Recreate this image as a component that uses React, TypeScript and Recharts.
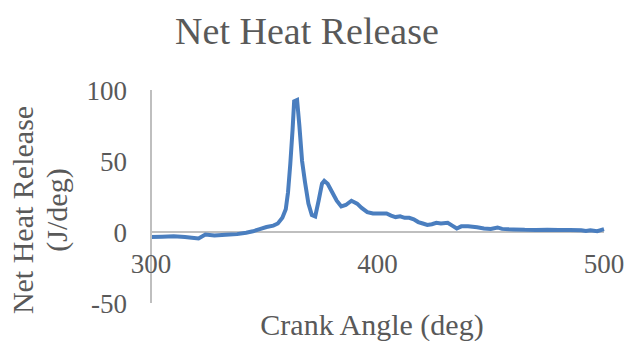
import React from "react";
import { LineChart, Line, XAxis, YAxis, ReferenceLine } from "recharts";

// Crank angle (deg) samples
const crankAngle = [
  300, 305, 310, 315, 318, 321, 324, 328, 333, 338, 342, 345, 348, 351, 354, 356, 358,
  359.5, 360.5, 361.5, 362.5, 363.2, 364.5, 365.5, 366.7, 368, 369.5, 371, 372.5, 374,
  375.5, 376.5, 378, 380, 382, 384, 386, 388.5, 391, 393, 395.5, 398, 401, 404, 406, 408,
  410, 412, 414, 416, 418, 420, 422, 424, 426, 428, 431, 433, 435, 437, 440, 444, 447,
  450, 453, 455, 458, 460, 465, 470, 475, 480, 485, 490, 492, 494, 497, 500,
];

// Net heat release (J/deg) at each crank angle
const heatRelease = [
  -3.5, -3.3, -3, -3.5, -4, -4.5, -1.8, -2.5, -2, -1.5, -0.5, 0.5, 2, 3.5, 4.5, 6, 10,
  16, 28, 48, 72, 92, 93, 75, 50, 35, 20, 12, 11, 22,
  34, 36, 34, 28, 22, 18, 19, 22, 20, 17, 14, 13, 13, 13, 11.5, 10.5,
  11, 10, 10, 9, 7, 6, 5, 5.5, 6.5, 6, 6.5, 4.5, 2.5, 4, 4, 3.3, 2.5,
  2.2, 3.2, 2.2, 1.9, 1.8, 1.5, 1.4, 1.5, 1.4, 1.4, 1.2, 0.7, 1.2, 0.6, 2,
];

const xTicks = [300, 400, 500];
const yTicks = [-50, 0, 50, 100];
const xDomain: [number, number] = [300, 500];
const yDomain: [number, number] = [-50, 100];

const chartData = crankAngle.map((angle, i) => ({ angle, nhr: heatRelease[i] }));

const WIDTH = 628;
const HEIGHT = 341;
const MARGIN = { top: 90, right: 24, bottom: 8, left: 80 };
const X_AXIS_HEIGHT = 30;
const PLOT_HEIGHT = HEIGHT - MARGIN.top - MARGIN.bottom - X_AXIS_HEIGHT;
// distance from the plot's bottom edge up to the value 0
const ZERO_OFFSET = (PLOT_HEIGHT * (0 - yDomain[0])) / (yDomain[1] - yDomain[0]);

const TEXT = "#595959";
const AXIS = "#bfbfbf";
const FONT = "'Liberation Serif', 'Times New Roman', serif";

// X tick labels sit just below the zero line rather than at the plot bottom
const XTick = (props: any) => {
  const { x, y, payload } = props;
  return (
    <text
      x={x}
      y={y - ZERO_OFFSET + 41}
      textAnchor="middle"
      fill={TEXT}
      fontFamily={FONT}
      fontSize={27}
    >
      {payload.value}
    </text>
  );
};

const YTitle = () => (
  <text
    transform="translate(33, 210) rotate(-90)"
    textAnchor="middle"
    fill={TEXT}
    fontFamily={FONT}
    fontSize={30}
  >
    <tspan x={0} dy={0}>Net Heat Release</tspan>
    <tspan x={0} dy={34}>(J/deg)</tspan>
  </text>
);

export default function App() {
  return (
    <div
      style={{
        position: "absolute",
        left: 0,
        top: 0,
        width: WIDTH,
        height: HEIGHT,
        background: "#ffffff",
      }}
    >
      <LineChart width={WIDTH} height={HEIGHT} data={chartData} margin={MARGIN}>
        <text
          x={307}
          y={44}
          textAnchor="middle"
          fill={TEXT}
          fontFamily={FONT}
          fontSize={38}
        >
          Net Heat Release
        </text>
        <text
          x={372}
          y={335}
          textAnchor="middle"
          fill={TEXT}
          fontFamily={FONT}
          fontSize={30}
        >
          Crank Angle (deg)
        </text>
        <YTitle />
        <XAxis
          dataKey="angle"
          type="number"
          domain={xDomain}
          ticks={xTicks}
          height={X_AXIS_HEIGHT}
          axisLine={false}
          tickLine={false}
          tickSize={0}
          tickMargin={0}
          tick={<XTick />}
          interval={0}
        />
        <YAxis
          type="number"
          domain={yDomain}
          ticks={yTicks}
          width={71}
          axisLine={{ stroke: AXIS, strokeWidth: 2 }}
          tickLine={false}
          tickSize={0}
          tickMargin={24}
          interval={0}
          tick={{ fill: TEXT, fontFamily: FONT, fontSize: 27 }}
        />
        <ReferenceLine y={0} stroke={AXIS} strokeWidth={2} />
        <Line
          type="linear"
          dataKey="nhr"
          stroke="#4a7ebf"
          strokeWidth={4}
          dot={false}
          isAnimationActive={false}
        />
      </LineChart>
    </div>
  );
}
